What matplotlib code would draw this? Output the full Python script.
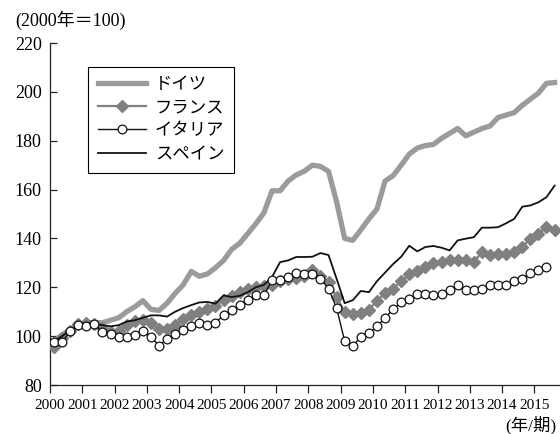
import numpy as np
import matplotlib
matplotlib.use("Agg")
import matplotlib.pyplot as plt
from matplotlib.font_manager import FontProperties

# quarterly index (2000 = 100), starting 2000Q1
germany = [98, 100.5, 102.5, 104.5, 105.5, 105.5, 105.5, 106.5,
           107.5, 110, 112, 114.5, 111, 110.5, 113.5, 117.5,
           121, 126.5, 124.5, 125.5, 128, 131, 135.5, 138,
           142, 146, 150.5, 159.5, 159.5, 163.5, 166, 167.5,
           170, 169.5, 167.5, 155, 140, 139.2, 143.5, 148,
           152, 163.5, 165.7, 170, 174.5, 177, 178, 178.5,
           181, 183, 185, 182, 183.5, 185, 186, 189.5,
           190.5, 191.5, 194.5, 197, 199.5, 203.5, 203.8]
france = [95.4, 99.4, 102, 104.8, 105.5, 105, 103.5, 101.5,
          102, 104.5, 106, 106.5, 105.5, 103, 103, 104.5,
          107, 108.5, 110, 111, 112.5, 115, 116.5, 118,
          119.5, 120, 120.5, 121, 122.5, 123.5, 124, 124.5,
          127, 124.5, 122, 116, 110, 109, 109.3, 110.8,
          114.5, 117.5, 119.5, 122.5, 125.3, 126.7, 128.3, 130,
          130.3, 131.3, 131, 131, 130.5, 134.3, 133.1, 133.7,
          133.7, 134.4, 136.5, 139.9, 141.9, 144.6, 143.5]
italy = [97.5, 97.5, 102, 104.5, 104, 105, 101.8, 101,
         99.7, 99.7, 100.3, 102, 99.7, 96.1, 98.9, 100.9,
         102.5, 104, 105.5, 104.5, 105.5, 108.6, 110.6, 112.7,
         114.7, 116.7, 116.7, 122.9, 123.1, 124.2, 125.8, 125.6,
         125.6, 123.5, 119.5, 111.5, 98, 96, 99.7, 101.2,
         104, 107.5, 111, 113.8, 115.4, 117.1, 117.1, 116.7,
         117.1, 118.8, 120.8, 118.8, 118.8, 119.5, 121.1, 120.8,
         121.1, 122.4, 123.5, 125.8, 126.9, 128.3]
spain = [98, 100, 102.5, 104.5, 105.5, 105, 104.5, 104,
         104.5, 106, 106.5, 107.5, 108.5, 108.5, 108, 110,
         111.5, 112.7, 113.8, 114, 113.3, 116.7, 116, 116.5,
         118, 120, 121, 124.2, 130.3, 131, 132.4, 132.4,
         132.5, 134, 133.2, 123.5, 113.5, 114.7, 118.5, 118,
         122.5, 126, 129.5, 132.5, 137, 134.7, 136.5, 136.9,
         136.2, 135.1, 139.2, 139.9, 140.5, 144.4, 144.4, 144.6,
         146.2, 148, 153, 153.5, 154.8, 156.9, 161.6]

labels = ["ドイツ", "フランス", "イタリア", "スペイン"]
years = list(range(2000, 2016))


def qpos(vals):
    # quarter midpoints
    return 2000 + 0.125 + 0.25 * np.arange(len(vals))


plt.rcParams["font.family"] = ["Liberation Serif", "Noto Sans CJK JP"]
jp = ["Liberation Serif", "Noto Sans CJK JP"]

fig = plt.figure(figsize=(5.6, 4.34), dpi=100)
ax = fig.add_axes([50 / 560, 1 - 385 / 434, 0.998 - 50 / 560, (385 - 43) / 434])

ax.plot(qpos(germany), germany, color="#9b9b9b", lw=3.8, label=labels[0], zorder=2)
ax.plot(qpos(france), france, color="#808080", lw=1.6, marker="D", ms=6.3,
        mec="#808080", mfc="#808080", label=labels[1], zorder=3)
ax.plot(qpos(spain), spain, color="#111111", lw=1.3, label=labels[3], zorder=4)
ax.plot(qpos(italy), italy, color="#111111", lw=1.0, marker="o", ms=6.3,
        mfc="white", mec="#111111", mew=0.9, label=labels[2], zorder=5)

ax.set_xlim(2000, 2000 + (559 - 50) / 32.3)
ax.set_ylim(80, 220)
ax.set_xticks(years)
ax.set_xticklabels([str(y) for y in years])
ax.set_yticks(range(80, 221, 20))

for s in ["top", "right"]:
    ax.spines[s].set_visible(False)
for s in ["left", "bottom"]:
    ax.spines[s].set_linewidth(0.9)
    ax.spines[s].set_color("#222222")

ax.tick_params(axis="y", direction="in", length=5, width=0.9, pad=6,
               labelsize=13, color="#222222")
ax.tick_params(axis="x", direction="out", length=6, width=0.9, pad=4,
               labelsize=11, color="#222222")

h, l = ax.get_legend_handles_labels()
order = [l.index(t) for t in labels]
leg = ax.legend([h[i] for i in order], [l[i] for i in order],
                loc="upper left", bbox_to_anchor=(0.0747, 0.93),
                prop=FontProperties(family=jp, size=12.5),
                frameon=True, fancybox=False, edgecolor="black", framealpha=1,
                handlelength=2.8, handletextpad=0.5, borderpad=0.55,
                labelspacing=0.42, borderaxespad=0)
leg.get_frame().set_linewidth(0.8)

fig.text(15 / 560, 1 - 20 / 434, "(2000年＝100)", ha="left", va="center",
         fontsize=13, family=jp)
fig.text(556 / 560, 1 - 425 / 434, "(年/期)", ha="right", va="center",
         fontsize=12.5, family=jp)

fig.savefig("out.png", dpi=100)
